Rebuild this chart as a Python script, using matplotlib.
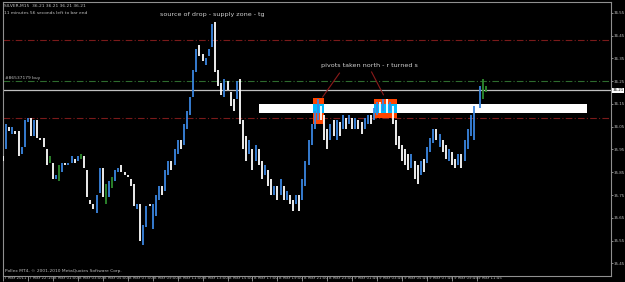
import matplotlib
matplotlib.use("Agg")
import matplotlib.pyplot as plt
import matplotlib.patches as mpatches
from matplotlib.transforms import blended_transform_factory, ScaledTranslation

# M15 bars: high, low, kind (u=up/blue, d=down/white, n=doji/green)
highs = [35.92, 36.06, 36.05, 36.05, 36.03, 36.03, 35.96, 36.08, 36.09, 36.09,
         36.08, 36.08, 36.00, 36.00, 35.95, 35.92, 35.89, 35.84, 35.88, 35.89,
         35.89, 35.89, 35.92, 35.91, 35.92, 35.93, 35.92, 35.86, 35.73, 35.71,
         35.75, 35.87, 35.87, 35.80, 35.81, 35.83, 35.86, 35.87, 35.88, 35.85,
         35.84, 35.82, 35.80, 35.71, 35.71, 35.62, 35.70, 35.71, 35.71, 35.75,
         35.79, 35.79, 35.86, 35.90, 35.90, 35.95, 35.99, 35.99, 36.06, 36.12,
         36.18, 36.30, 36.39, 36.41, 36.37, 36.35, 36.39, 36.50, 36.51, 36.30,
         36.24, 36.26, 36.25, 36.20, 36.17, 36.25, 36.26, 36.08, 36.01, 35.99,
         35.95, 35.97, 35.95, 35.90, 35.88, 35.86, 35.82, 35.79, 35.79, 35.82,
         35.79, 35.77, 35.75, 35.73, 35.75, 35.75, 35.82, 35.90, 35.99, 36.06,
         36.12, 36.17, 36.14, 36.10, 36.04, 36.06, 36.08, 36.08, 36.07, 36.10,
         36.09, 36.10, 36.09, 36.09, 36.08, 36.07, 36.09, 36.10, 36.10, 36.13,
         36.16, 36.16, 36.17, 36.17, 36.16, 36.14, 36.08, 36.01, 35.97, 35.95,
         35.93, 35.93, 35.90, 35.88, 35.90, 35.91, 35.96, 36.00, 36.04, 36.04,
         36.02, 35.99, 35.97, 35.95, 35.94, 35.91, 35.93, 35.93, 35.99, 36.04,
         36.10, 36.14, 36.15, 36.23, 36.26, 36.23]
lows = [35.90, 35.95, 36.03, 36.02, 36.02, 35.92, 35.93, 35.96, 36.07, 36.01,
        36.01, 36.00, 35.99, 35.96, 35.88, 35.89, 35.82, 35.82, 35.81, 35.85,
        35.88, 35.88, 35.89, 35.89, 35.90, 35.91, 35.87, 35.74, 35.71, 35.69,
        35.67, 35.76, 35.74, 35.71, 35.74, 35.78, 35.81, 35.85, 35.85, 35.84,
        35.83, 35.79, 35.70, 35.69, 35.55, 35.53, 35.61, 35.70, 35.60, 35.66,
        35.73, 35.75, 35.77, 35.84, 35.86, 35.88, 35.93, 35.95, 35.97, 36.04,
        36.10, 36.18, 36.29, 36.36, 36.34, 36.32, 36.36, 36.40, 36.29, 36.23,
        36.19, 36.18, 36.21, 36.14, 36.12, 36.17, 36.06, 35.95, 35.90, 35.93,
        35.86, 35.90, 35.88, 35.82, 35.84, 35.79, 35.75, 35.75, 35.73, 35.75,
        35.73, 35.73, 35.71, 35.68, 35.71, 35.68, 35.73, 35.79, 35.88, 35.97,
        36.04, 36.08, 36.08, 35.99, 35.95, 35.99, 36.01, 35.99, 36.01, 36.04,
        36.04, 36.06, 36.04, 36.04, 36.04, 36.02, 36.04, 36.06, 36.06, 36.08,
        36.10, 36.11, 36.12, 36.11, 36.12, 36.06, 35.97, 35.95, 35.90, 35.88,
        35.86, 35.87, 35.82, 35.80, 35.84, 35.85, 35.89, 35.94, 35.98, 35.99,
        35.96, 35.94, 35.91, 35.90, 35.88, 35.87, 35.88, 35.87, 35.90, 35.95,
        36.01, 35.99, 36.11, 36.13, 36.17, 36.20]
kinds = list("dududduuud" "uddddndunu" "duudundddd" "uudnunuudd" "ddduduuduu"
             "uduuduuduu" "uuudduuudd" "dudddudddu" "dudduddudu" "dudduduuuu"
             "uudddududu" "dududduudu" "udududdddd" "dudduduuud" "uddudduduu"
             "uudunn")

time_labels = ["7 Mar 2011", "7 Mar 22:15", "8 Mar 01:00", "8 Mar 03:00", "8 Mar 05:00",
               "8 Mar 07:00", "8 Mar 09:00", "8 Mar 11:00", "8 Mar 13:00", "8 Mar 15:00",
               "8 Mar 17:00", "8 Mar 19:00", "8 Mar 21:00", "8 Mar 23:00", "9 Mar 01:45",
               "9 Mar 03:45", "9 Mar 05:45", "9 Mar 07:45", "9 Mar 09:45", "9 Mar 11:45"]
price_ticks = [36.55, 36.45, 36.35, 36.25, 36.15, 36.05, 35.95, 35.85, 35.75, 35.65, 35.55, 35.45]

bid = 36.21
red_levels = [36.43, 36.09]
buy_level = 36.25
zone = [82.0, 187.3, 36.11, 36.15]          # x0, x1, y0, y1
pivot_boxes = [[99.3, 103.1, 36.06, 36.175], [119.1, 126.5, 36.09, 36.17]]

colors = {"u": "#3a86e0", "d": "#ffffff", "n": "#2e8b2e"}

n = min(len(highs), len(lows), len(kinds))
fig = plt.figure(figsize=(6.25, 2.82), dpi=100, facecolor="black")
ax = fig.add_axes([3 / 625, 6 / 282, 608 / 625, 274 / 282], facecolor="black")
ax.set_xlim(0.42, 194.98)
ax.set_ylim(35.395, 36.597)

for lv in red_levels:
    ax.axhline(lv, color="#7a1a1a", lw=0.8, ls=(0, (6, 2, 1, 2)))
ax.axhline(buy_level, color="#2e6b2e", lw=0.8, ls=(0, (6, 2, 1, 2)))
ax.axhline(bid, color="#c0c0c0", lw=0.9)

# supply zone rectangle and pivot boxes
ax.add_patch(mpatches.Rectangle((zone[0], zone[2]), zone[1] - zone[0], zone[3] - zone[2],
                                facecolor="white", edgecolor="none", zorder=2))
for b in pivot_boxes:
    ax.add_patch(mpatches.Rectangle((b[0], b[2]), b[1] - b[0], b[3] - b[2],
                                    facecolor="#ff4500", edgecolor="none", zorder=2))
    ax.add_patch(mpatches.Rectangle((b[0], zone[2]), b[1] - b[0], zone[3] - zone[2],
                                    facecolor="#00baff", edgecolor="none", zorder=2.1))

for i in range(n):
    ax.vlines(i, lows[i], highs[i], color=colors[kinds[i]], lw=1.3, zorder=3)

# trend lines to the pivots
ax.plot([107.9, 102.5], [36.285, 36.18], color="#8b1a1a", lw=0.8, zorder=4)
ax.plot([118.2, 122.0], [36.29, 36.19], color="#8b1a1a", lw=0.8, zorder=4)

ax.text(67, 36.54, "source of drop - supply zone - tg", color="#d0d0d0", fontsize=4.6,
        ha="center", va="center")
ax.text(102, 36.32, "pivots taken north - r turned s", color="#d0d0d0", fontsize=4.6,
        ha="left", va="center")
ax.text(0.6, buy_level + 0.004, "#86537179 buy", color="#c0c0c0", fontsize=3.2,
        ha="left", va="bottom")

for s in ax.spines.values():
    s.set_color("#909090")
    s.set_linewidth(0.8)

ax.yaxis.tick_right()
ax.set_yticks(price_ticks)
ax.set_yticklabels([f"{p:.2f}" for p in price_ticks])
ax.tick_params(axis="y", colors="#c0c0c0", labelsize=2.9, length=1.3, width=0.5, pad=0.5)
ax.set_xticks(range(0, 8 * len(time_labels), 8))
ax.set_xticklabels(time_labels, ha="left")
ax.tick_params(axis="x", colors="#c0c0c0", labelsize=2.9, length=3.5, width=0.5, pad=-3.2)
for lab in ax.get_xticklabels():
    lab.set_transform(lab.get_transform() + ScaledTranslation(1.5 / 100, 0, fig.dpi_scale_trans))

tr = blended_transform_factory(ax.transAxes, ax.transData)
ax.text(1.002, bid, f"{bid:.2f}", transform=tr, color="black", fontsize=2.9, va="center",
        ha="left", bbox=dict(facecolor="white", edgecolor="none", pad=0.4))

fig.text(0.006, 0.985, "SILVER,M15  36.21 36.21 36.21 36.21", color="#c0c0c0",
         fontsize=3.2, va="top")
fig.text(0.006, 0.962, "11 minutes 56 seconds left to bar end", color="#c0c0c0",
         fontsize=3.2, va="top")
fig.text(0.008, 0.032, "Pollex MT4, \u00a9 2001-2010 MetaQuotes Software Corp.", color="#c0c0c0",
         fontsize=3.2, va="bottom")

fig.savefig("out.png", dpi=100, facecolor="black")
